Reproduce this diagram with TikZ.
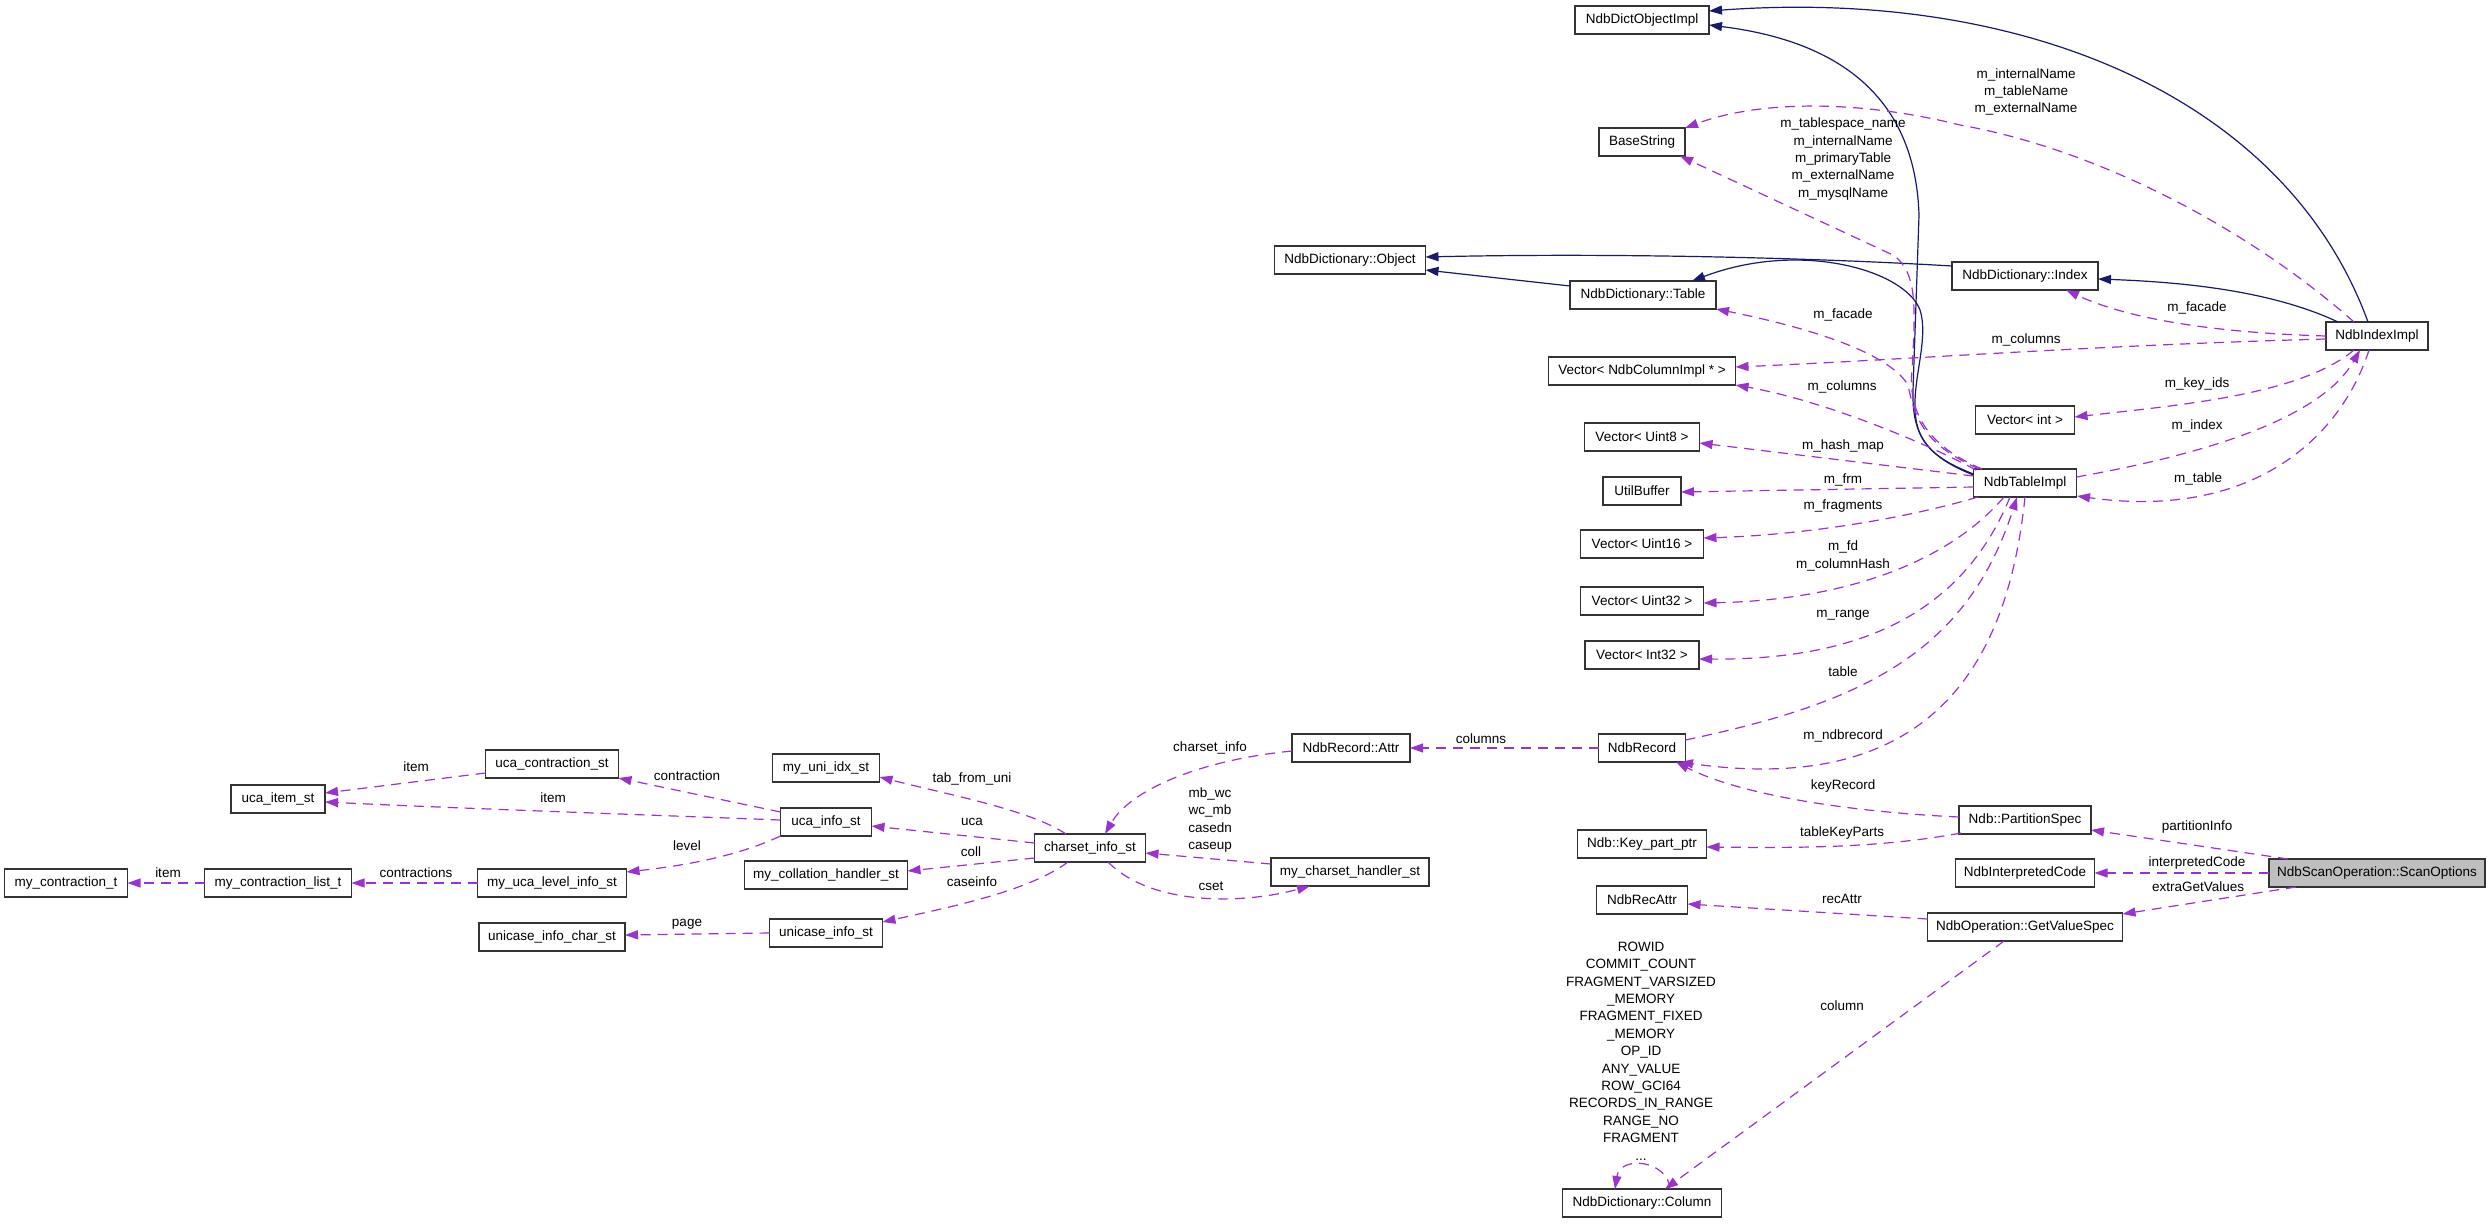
\documentclass[tikz,border=0pt]{standalone}
\usepackage{fontspec}
\usetikzlibrary{arrows.meta,calc}
\newfontfamily\lblfont{Liberation Sans}
\newcommand\lbl{\lblfont\fontsize{13.5pt}{17.4pt}\selectfont}
\definecolor{navy}{HTML}{191970}
\definecolor{purp}{HTML}{9A32CD}
\tikzset{
  box/.style={draw=black!80, line width=1.3pt, fill=white, minimum height=28pt, inner sep=0pt, font=\lbl},
  mainbox/.style={box, fill=black!25},
  inh/.style={draw=navy, line width=1.2pt, -{Triangle[length=13pt,width=9pt]}},
  use/.style={draw=purp, line width=1.2pt, dash pattern=on 10pt off 7pt, -{Triangle[length=13pt,width=9pt]}},
  lab/.style={font=\lbl, inner sep=0pt, align=center}
}
\begin{document}
\begin{tikzpicture}[x=1pt,y=-1pt]
\fill[white] (0,0) rectangle (2491,1223);
\useasboundingbox (0,0) rectangle (2491,1223);
% nodes
\node[box, minimum width=134pt] (dictobj) at (1642,20) {NdbDictObjectImpl};
\node[box, minimum width=86pt] (basestr) at (1642,142) {BaseString};
\node[box, minimum width=151pt] (dobj) at (1350,260) {NdbDictionary::Object};
\node[box, minimum width=146pt] (dtable) at (1643,295) {NdbDictionary::Table};
\node[box, minimum width=187pt] (vcol) at (1642,371) {Vector< NdbColumnImpl * >};
\node[box, minimum width=146pt] (dindex) at (2025,276) {NdbDictionary::Index};
\node[box, minimum width=102pt] (indeximpl) at (2377,336) {NdbIndexImpl};
\node[box, minimum width=99pt] (vint) at (2025,420) {Vector< int >};
\node[box, minimum width=115pt] (vu8) at (1642,437) {Vector< Uint8 >};
\node[box, minimum width=78pt] (utilbuf) at (1642,491) {UtilBuffer};
\node[box, minimum width=123pt] (vu16) at (1642,544) {Vector< Uint16 >};
\node[box, minimum width=123pt] (vu32) at (1642,601) {Vector< Uint32 >};
\node[box, minimum width=114pt] (vi32) at (1642,655) {Vector< Int32 >};
\node[box, minimum width=87pt] (ndbrecord) at (1642,748) {NdbRecord};
\node[box, minimum width=103pt] (tableimpl) at (2025,483) {NdbTableImpl};
\node[box, minimum width=132pt] (partspec) at (2025,820) {Ndb::PartitionSpec};
\node[mainbox, minimum width=216pt] (scanopt) at (2377,873) {NdbScanOperation::ScanOptions};
\node[box, minimum width=139pt] (interp) at (2025,873) {NdbInterpretedCode};
\node[box, minimum width=195pt] (getvalue) at (2025,927) {NdbOperation::GetValueSpec};
\node[box, minimum width=129pt] (keypart) at (1642,844) {Ndb::Key\_part\_ptr};
\node[box, minimum width=91pt] (recattr) at (1642,900) {NdbRecAttr};
\node[box, minimum width=159pt] (column) at (1642,1203) {NdbDictionary::Column};
\node[box, minimum width=118pt] (rattr) at (1351,748) {NdbRecord::Attr};
\node[box, minimum width=107pt] (uniidx) at (826,768) {my\_uni\_idx\_st};
\node[box, minimum width=91pt] (ucainfo) at (826,822) {uca\_info\_st};
\node[box, minimum width=133pt] (ucacontr) at (552,764) {uca\_contraction\_st};
\node[box, minimum width=94pt] (ucaitem) at (278,799) {uca\_item\_st};
\node[box, minimum width=123pt] (mycontr) at (66,883) {my\_contraction\_t};
\node[box, minimum width=147pt] (mycontrlist) at (278,883) {my\_contraction\_list\_t};
\node[box, minimum width=149pt] (ucalevel) at (552,883) {my\_uca\_level\_info\_st};
\node[box, minimum width=146pt] (unichar) at (552,937) {unicase\_info\_char\_st};
\node[box, minimum width=163pt] (collh) at (826,875) {my\_collation\_handler\_st};
\node[box, minimum width=113pt] (unicase) at (826,933) {unicase\_info\_st};
\node[box, minimum width=111pt] (charset) at (1090,848) {charset\_info\_st};
\node[box, minimum width=158pt] (charseth) at (1350,872) {my\_charset\_handler\_st};

% inheritance edges
\draw[inh] ($(dtable)+(-73,-9)$) -- ($(dobj)+(75.5,10)$);
\draw[inh] ($(dindex)+(-73,-10)$) .. controls (1800,257) and (1600,253) .. ($(dobj)+(75.5,-3)$);
\draw[inh] ($(indeximpl)+(-9,-14)$) .. controls (2285,95) and (2020,-12) .. ($(dictobj)+(67,-9)$);
\draw[inh] ($(tableimpl)+(-51.5,-8)$) .. controls (1922,455) and (1912,430) .. (1913,390) -- (1919,215) .. controls (1915,90) and (1830,40) .. ($(dictobj)+(67,5)$);
\draw[inh] ($(tableimpl)+(-51.5,-9)$) .. controls (1924,455) and (1914,435) .. (1915,400) .. controls (1916,370) and (1928,335) .. (1920,310) .. controls (1905,270) and (1800,240) .. ($(dtable)+(49,-14)$);
\draw[inh] ($(indeximpl)+(-39,-14)$) .. controls (2270,290) and (2180,282) .. ($(dindex)+(73,3)$);

% usage edges
\draw[use] ($(indeximpl)+(-23,-14)$) .. controls (2250,230) and (2100,150) .. (1960,125) .. controls (1860,100) and (1760,100) .. ($(basestr)+(43,-14)$);
\draw[use] ($(tableimpl)+(-43,-14)$) .. controls (1925,445) and (1908,410) .. (1912,370) .. controls (1916,300) and (1916,275) .. (1895,256) -- ($(basestr)+(38,14)$);
\draw[use] ($(indeximpl)+(-51,0)$) .. controls (2220,333) and (2130,320) .. ($(dindex)+(41,14)$);
\draw[use] ($(tableimpl)+(-46,-14)$) .. controls (1925,445) and (1915,420) .. (1908,385) .. controls (1890,355) and (1820,330) .. ($(dtable)+(73,14)$);
\draw[use] ($(indeximpl)+(-51,3)$) .. controls (2100,345) and (1900,360) .. ($(vcol)+(93.5,-4)$);
\draw[use] ($(tableimpl)+(-49,-13)$) .. controls (1920,440) and (1820,400) .. ($(vcol)+(93.5,14)$);
\draw[use] ($(indeximpl)+(-23,14)$) .. controls (2300,395) and (2180,405) .. ($(vint)+(49.5,-3)$);
\draw[use] ($(tableimpl)+(51.5,-6)$) .. controls (2200,455) and (2320,420) .. ($(indeximpl)+(-17,14)$);
\draw[use] ($(indeximpl)+(-8,14)$) .. controls (2340,440) and (2250,520) .. ($(tableimpl)+(52,13)$);
\draw[use] ($(tableimpl)+(-51.5,-7)$) -- ($(vu8)+(57.5,6)$);
\draw[use] ($(tableimpl)+(-51.5,4)$) -- ($(utilbuf)+(39,1)$);
\draw[use] ($(tableimpl)+(-47,14)$) .. controls (1900,520) and (1800,535) .. ($(vu16)+(61.5,-6)$);
\draw[use] ($(tableimpl)+(-21,14)$) .. controls (1950,560) and (1850,600) .. ($(vu32)+(61.5,2)$);
\draw[use] ($(tableimpl)+(-15,14)$) .. controls (1960,620) and (1850,660) .. ($(vi32)+(57,4)$);
\draw[use] ($(ndbrecord)+(43.5,-8)$) .. controls (1850,705) and (1965,660) .. ($(tableimpl)+(-8,14)$);
\draw[use] ($(tableimpl)+(0,14)$) .. controls (2010,640) and (1950,800) .. ($(ndbrecord)+(38,14)$);
\draw[use] ($(partspec)+(-66,-3)$) .. controls (1850,812) and (1740,795) .. ($(ndbrecord)+(34,14)$);
\draw[use] ($(partspec)+(-64,13)$) .. controls (1880,848) and (1800,848) .. ($(keypart)+(64.5,3)$);
\draw[use] ($(scanopt)+(-89,-14)$) -- ($(partspec)+(66,10)$);
\draw[use] ($(scanopt)+(-108,0)$) -- ($(interp)+(69.5,0)$);
\draw[use] ($(scanopt)+(-81,14)$) -- ($(getvalue)+(97.5,-13)$);
\draw[use] ($(getvalue)+(-97.5,-8)$) -- ($(recattr)+(45.5,4)$);
\draw[use] ($(getvalue)+(-21,14)$) -- ($(column)+(23,-14)$);
\draw[use] ($(column)+(28,-14)$) .. controls (1668,1160) and (1620,1155) .. ($(column)+(-27,-14)$);
\draw[use] ($(ndbrecord)+(-43,0)$) -- ($(rattr)+(59,0)$);
\draw[use] ($(rattr)+(-59,3)$) .. controls (1200,760) and (1130,790) .. ($(charset)+(15,-14)$);
\draw[use] ($(charset)+(-24,-14)$) .. controls (1030,810) and (950,795) .. ($(uniidx)+(53.5,9)$);
\draw[use] ($(charset)+(-55.5,-5)$) -- ($(ucainfo)+(45.5,4)$);
\draw[use] ($(charset)+(-55.5,10)$) -- ($(collh)+(81.5,-4)$);
\draw[use] ($(charset)+(-22,14)$) .. controls (1030,890) and (960,905) .. ($(unicase)+(56.5,-11)$);
\draw[use] ($(charseth)+(-79,-8)$) -- ($(charset)+(55.5,5)$);
\draw[use] ($(charset)+(18,14)$) .. controls (1150,905) and (1240,905) .. ($(charseth)+(-40,14)$);
\draw[use] ($(ucainfo)+(-45.5,-10)$) -- ($(ucacontr)+(66.5,14)$);
\draw[use] ($(ucacontr)+(-66.5,9)$) -- ($(ucaitem)+(47,-6)$);
\draw[use] ($(ucainfo)+(-45.5,-2)$) .. controls (650,815) and (450,808) .. ($(ucaitem)+(47,3)$);
\draw[use] ($(ucainfo)+(-45.5,14)$) .. controls (740,855) and (690,865) .. ($(ucalevel)+(74.5,-11)$);
\draw[use] ($(ucalevel)+(-74.5,0)$) -- ($(mycontrlist)+(73.5,0)$);
\draw[use] ($(mycontrlist)+(-73.5,0)$) -- ($(mycontr)+(61.5,0)$);
\draw[use] ($(unicase)+(-56.5,0)$) -- ($(unichar)+(73,-2)$);

% labels
\node[lab] (l1) at (2026,92) {m\_internalName\\m\_tableName\\m\_externalName};
\node[lab] (l2) at (1843,159) {m\_tablespace\_name\\m\_internalName\\m\_primaryTable\\m\_externalName\\m\_mysqlName};
\node[lab] (l3) at (1843,315) {m\_facade};
\node[lab] (l4) at (2197,308) {m\_facade};
\node[lab] (l5) at (2026,340) {m\_columns};
\node[lab] (l6) at (1842,387) {m\_columns};
\node[lab] (l7) at (2197,384) {m\_key\_ids};
\node[lab] (l8) at (2197,426) {m\_index};
\node[lab] (l9) at (2198,479) {m\_table};
\node[lab] (l10) at (1843,446) {m\_hash\_map};
\node[lab] (l11) at (1843,480) {m\_frm};
\node[lab] (l12) at (1843,506) {m\_fragments};
\node[lab] (l13) at (1843,556) {m\_fd\\m\_columnHash};
\node[lab] (l14) at (1843,615) {m\_range};
\node[lab] (l15) at (1843,672) {table};
\node[lab] (l16) at (1843,736) {m\_ndbrecord};
\node[lab] (l17) at (1843,786) {keyRecord};
\node[lab] (l18) at (1481,739) {columns};
\node[lab] (l19) at (1210,748) {charset\_info};
\node[lab] (l20) at (972,779) {tab\_from\_uni};
\node[lab] (l21) at (1210,820) {mb\_wc\\wc\_mb\\casedn\\caseup};
\node[lab] (l22) at (972,822) {uca};
\node[lab] (l23) at (971,852) {coll};
\node[lab] (l24) at (972,882) {caseinfo};
\node[lab] (l25) at (1211,886) {cset};
\node[lab] (l26) at (416,767) {item};
\node[lab] (l27) at (687,776) {contraction};
\node[lab] (l28) at (553,798) {item};
\node[lab] (l29) at (168,873) {item};
\node[lab] (l30) at (416,873) {contractions};
\node[lab] (l31) at (687,846) {level};
\node[lab] (l32) at (687,924) {page};
\node[lab] (l33) at (2197,827) {partitionInfo};
\node[lab] (l34) at (2197,863) {interpretedCode};
\node[lab] (l35) at (2198,887) {extraGetValues};
\node[lab] (l36) at (1842,833) {tableKeyParts};
\node[lab] (l37) at (1842,899) {recAttr};
\node[lab] (l38) at (1842,1006) {column};
\node[lab] (l39) at (1641,1051) {ROWID\\COMMIT\_COUNT\\FRAGMENT\_VARSIZED\\\_MEMORY\\FRAGMENT\_FIXED\\\_MEMORY\\OP\_ID\\ANY\_VALUE\\ROW\_GCI64\\RECORDS\_IN\_RANGE\\RANGE\_NO\\FRAGMENT\\...};
\end{tikzpicture}
\end{document}
